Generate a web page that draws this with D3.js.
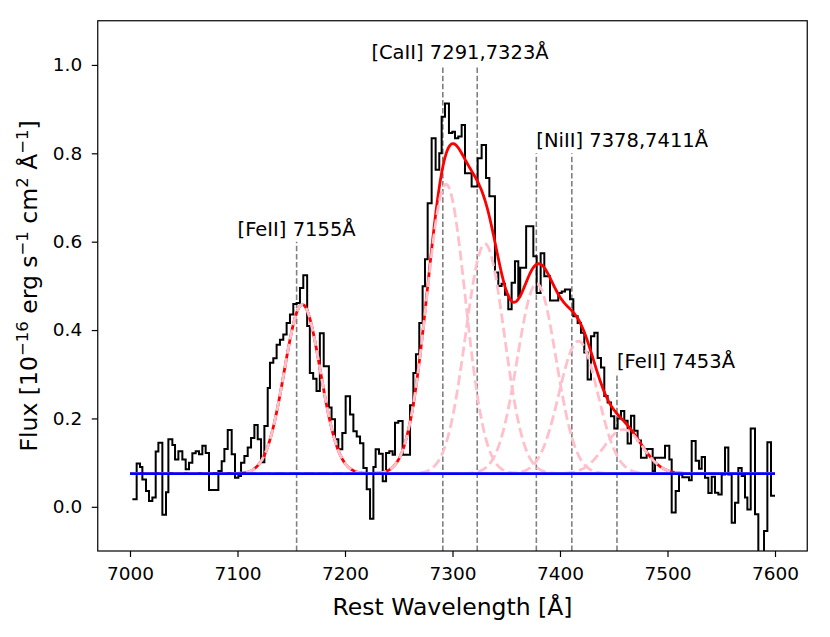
<!DOCTYPE html>
<html>
<head>
    <meta charset="utf-8">
    <script src="https://cdn.jsdelivr.net/npm/d3@7/dist/d3.min.js"></script>
    <title></title>
    <style>
        * {
            margin: 0;
            padding: 0;
        }

        body {
            background: white;
        }

        #chart {
            display: block;
            font-family: "DejaVu Sans", sans-serif;
        }
    </style>
</head>
<body>

    <svg id="chart" width="830" height="637"></svg>

    <script>
        // spectrum: left edge of each step (Angstrom) and its flux
        var binEdge = [7002.2, 7006.2, 7009.3, 7011.5, 7014.9, 7017.7, 7020.8, 7023.9, 7026.4, 7030.1,
            7033.5, 7035.7, 7039.4, 7041.9, 7045.0, 7048.7, 7051.8, 7054.9, 7058.0, 7061.1,
            7064.2, 7067.3, 7070.4, 7073.5, 7082.2, 7085.3, 7087.8, 7090.9, 7094.6, 7097.7,
            7100.8, 7103.3, 7106.4, 7109.5, 7112.6, 7115.7, 7118.8, 7121.9, 7125.0, 7128.1,
            7130.2, 7133.3, 7136.4, 7139.5, 7142.6, 7145.7, 7148.8, 7151.9, 7155.0, 7158.1,
            7161.2, 7164.8, 7167.3, 7170.4, 7173.5, 7176.6, 7180.2, 7185.0, 7187.5, 7190.7,
            7193.8, 7197.5, 7200.6, 7204.7, 7207.8, 7210.9, 7214.0, 7217.1, 7220.2, 7223.3,
            7226.4, 7228.5, 7231.6, 7235.1, 7238.2, 7241.2, 7244.3, 7246.5, 7249.6, 7253.6,
            7260.5, 7263.6, 7266.0, 7269.1, 7272.2, 7274.4, 7276.9, 7280.6, 7284.3, 7287.7,
            7289.9, 7293.0, 7296.7, 7299.8, 7302.3, 7305.4, 7308.5, 7311.6, 7317.8, 7323.4,
            7327.1, 7331.2, 7334.3, 7339.5, 7342.6, 7345.7, 7348.8, 7351.9, 7355.0, 7358.1,
            7361.2, 7363.0, 7368.5, 7375.2, 7378.3, 7382.0, 7385.4, 7390.7, 7398.4, 7401.6,
            7404.6, 7409.3, 7412.4, 7416.4, 7419.5, 7422.6, 7425.7, 7428.8, 7431.9, 7435.0,
            7438.1, 7441.2, 7444.3, 7447.4, 7450.5, 7453.6, 7456.7, 7459.8, 7462.9, 7466.0,
            7469.1, 7472.2, 7475.3, 7480.6, 7486.2, 7488.4, 7497.7, 7501.7, 7503.9, 7507.6,
            7510.7, 7513.8, 7520.0, 7522.5, 7526.2, 7529.3, 7531.8, 7534.9, 7538.0, 7541.1,
            7544.2, 7547.3, 7550.4, 7553.5, 7556.6, 7559.7, 7562.8, 7565.9, 7569.0, 7572.1,
            7574.3, 7577.4, 7581.4, 7584.5, 7589.8, 7592.9, 7596.3, 7600.0];

        var flux = [0.017, 0.098, 0.090, 0.062, 0.036, 0.013, 0.021, 0.125, 0.145, -0.018,
            0.033, 0.153, 0.140, 0.107, 0.126, 0.107, 0.085, 0.100, 0.121, 0.126,
            0.119, 0.138, 0.122, 0.038, 0.081, 0.103, 0.131, 0.174, 0.119, 0.066,
            0.070, 0.100, 0.115, 0.134, 0.156, 0.185, 0.153, 0.101, 0.183, 0.269,
            0.326, 0.336, 0.367, 0.378, 0.390, 0.416, 0.435, 0.459, 0.461, 0.495,
            0.524, 0.409, 0.303, 0.290, 0.262, 0.393, 0.318, 0.225, 0.198, 0.153,
            0.130, 0.167, 0.250, 0.209, 0.171, 0.159, 0.144, 0.088, 0.040, -0.027,
            0.090, 0.130, 0.120, 0.058, 0.122, 0.126, 0.118, 0.190, 0.194, 0.118,
            0.230, 0.303, 0.345, 0.416, 0.499, 0.560, 0.687, 0.834, 0.763, 0.800,
            0.883, 0.913, 0.846, 0.849, 0.834, 0.838, 0.864, 0.755, 0.725, 0.789,
            0.819, 0.744, 0.703, 0.530, 0.500, 0.505, 0.480, 0.447, 0.507, 0.556,
            0.476, 0.541, 0.635, 0.567, 0.484, 0.574, 0.522, 0.467, 0.484, 0.487,
            0.492, 0.470, 0.431, 0.416, 0.394, 0.349, 0.288, 0.386, 0.394, 0.337,
            0.315, 0.251, 0.236, 0.205, 0.177, 0.200, 0.217, 0.195, 0.143, 0.206,
            0.172, 0.150, 0.111, 0.131, 0.081, 0.111, 0.138, 0.107, -0.013, 0.036,
            0.073, 0.067, 0.060, 0.149, 0.104, 0.086, 0.113, 0.066, 0.031, 0.068,
            0.032, 0.028, 0.073, 0.134, 0.073, -0.036, 0.009, 0.088, 0.070, 0.021,
            -0.006, 0.177, -0.017, -0.200, -0.055, 0.146, 0.025];

        // fitted model: flat continuum plus gaussian components
        var continuum = 0.075;
        var fitRange = [7000, 7600];
        var compCenter = [7160.3, 7294.0, 7330.2, 7378.3, 7417.1, 7458.9];
        var compAmp = [0.383, 0.655, 0.520, 0.430, 0.300, 0.100];
        var compSigma = [16.8, 18.0, 18.0, 18.0, 18.0, 18.0];

        // rest wavelengths of the marked lines and how high each marker goes
        var markWave = [7155, 7291, 7323, 7378, 7411, 7453];
        var markTop = [0.6, 1.0, 1.0, 0.8, 0.8, 0.3];

        var labelText = ["[FeII] 7155Å", "[CaII] 7291,7323Å", "[NiII] 7378,7411Å", "[FeII] 7453Å"];
        var labelWave = [7155, 7307, 7378, 7453];
        var labelFlux = [0.6, 1.0, 0.8, 0.3];

        var xTicks = [7000, 7100, 7200, 7300, 7400, 7500, 7600];
        var yTicks = [0.0, 0.2, 0.4, 0.6, 0.8, 1.0];


        var chart = {};
        chart.left = 97.75;
        chart.right = 807.25;
        chart.top = 20.75;
        chart.bottom = 551;

        chart.svg = d3.select("#chart");

        chart.x = d3.scaleLinear().domain([6970, 7630]).range([chart.left, chart.right]);
        chart.y = d3.scaleLinear().domain([-0.1, 1.1]).range([chart.bottom, chart.top]);

        chart.svg.append("defs").append("clipPath")
            .attr("id", "plotArea")
            .append("rect")
            .attr("x", chart.left)
            .attr("y", chart.top)
            .attr("width", chart.right - chart.left)
            .attr("height", chart.bottom - chart.top);

        var plot = chart.svg.append("g").attr("clip-path", "url(#plotArea)");

        // grey dashed markers
        plot.selectAll(".marker")
            .data(markWave)
            .enter()
            .append("line")
            .attr("class", "marker")
            .attr("x1", function (d) { return chart.x(d) })
            .attr("x2", function (d) { return chart.x(d) })
            .attr("y1", chart.y(-0.1))
            .attr("y2", function (d, i) { return chart.y(markTop[i]) })
            .attr("stroke", "#808080")
            .attr("stroke-width", 1.6)
            .attr("stroke-dasharray", "5.5,2.6");

        // observed spectrum as steps
        var stepPts = binEdge.map(function (e, i) {
            return [e, i < flux.length ? flux[i] : flux[flux.length - 1]];
        });
        var stepLine = d3.line()
            .x(function (d) { return chart.x(d[0]) })
            .y(function (d) { return chart.y(d[1]) })
            .curve(d3.curveStepAfter);
        plot.append("path")
            .attr("d", stepLine(stepPts))
            .attr("fill", "none")
            .attr("stroke", "black")
            .attr("stroke-width", 2);

        // model curves evaluated every 1 A
        var grid = d3.range(fitRange[0], fitRange[1] + 0.5, 1);
        function gauss(w, k) {
            var t = (w - compCenter[k]) / compSigma[k];
            return compAmp[k] * Math.exp(-0.5 * t * t);
        }
        var modelLine = d3.line()
            .x(function (d) { return chart.x(d[0]) })
            .y(function (d) { return chart.y(d[1]) });

        var total = grid.map(function (w) {
            var s = continuum;
            for (var k = 0; k < compCenter.length; k++) s += gauss(w, k);
            return [w, s];
        });
        plot.append("path")
            .attr("d", modelLine(total))
            .attr("fill", "none")
            .attr("stroke", "red")
            .attr("stroke-width", 2.8);

        plot.selectAll(".comp")
            .data(compCenter)
            .enter()
            .append("path")
            .attr("class", "comp")
            .attr("d", function (c, k) {
                return modelLine(grid.map(function (w) { return [w, continuum + gauss(w, k)] }));
            })
            .attr("fill", "none")
            .attr("stroke", "pink")
            .attr("stroke-width", 2.8)
            .attr("stroke-dasharray", "10,4.5");

        plot.append("line")
            .attr("x1", chart.x(fitRange[0]))
            .attr("x2", chart.x(fitRange[1]))
            .attr("y1", chart.y(continuum))
            .attr("y2", chart.y(continuum))
            .attr("stroke", "blue")
            .attr("stroke-width", 2.8);

        // line labels
        chart.svg.selectAll(".lab")
            .data(labelText)
            .enter()
            .append("text")
            .attr("class", "lab")
            .attr("x", function (d, i) { return chart.x(labelWave[i]) })
            .attr("y", function (d, i) { return chart.y(labelFlux[i]) - 6 })
            .attr("text-anchor", function (d, i) { return i < 2 ? "middle" : "start" })
            .style("font-size", "19.5px")
            .text(function (d) { return d });

        // axes
        var xAxis = chart.svg.append("g")
            .attr("transform", "translate(0," + chart.bottom + ")")
            .call(d3.axisBottom(chart.x).tickValues(xTicks).tickSize(6).tickPadding(10).tickFormat(d3.format("d")));
        var yAxis = chart.svg.append("g")
            .attr("transform", "translate(" + chart.left + ",0)")
            .call(d3.axisLeft(chart.y).tickValues(yTicks).tickSize(6).tickPadding(9.5).tickFormat(d3.format(".1f")));

        [xAxis, yAxis].forEach(function (a) {
            a.select(".domain").remove();
            a.selectAll(".tick line").attr("stroke", "black").attr("stroke-width", 1.2);
            a.selectAll(".tick text")
                .attr("fill", "black")
                .style("font-family", "DejaVu Sans")
                .style("font-size", "18.5px");
        });

        chart.svg.append("rect")
            .attr("x", chart.left)
            .attr("y", chart.top)
            .attr("width", chart.right - chart.left)
            .attr("height", chart.bottom - chart.top)
            .attr("fill", "none")
            .attr("stroke", "black")
            .attr("stroke-width", 1.2);

        chart.svg.append("text")
            .attr("x", (chart.left + chart.right) / 2)
            .attr("y", 615)
            .attr("text-anchor", "middle")
            .style("font-size", "23.5px")
            .text("Rest Wavelength [Å]");

        // y label with superscripts
        var yl = chart.svg.append("text")
            .attr("transform", "translate(37," + (chart.top + chart.bottom) / 2 + ") rotate(-90)")
            .attr("text-anchor", "middle")
            .style("font-size", "23.5px");
        var parts = [["Flux [10", 0], ["\u221216", 1], [" erg s", 0], ["\u22121", 1], [" cm", 0], ["2", 1], [" Å", 0], ["\u22121", 1], ["]", 0]];
        var raised = false;
        parts.forEach(function (p) {
            var t = yl.append("tspan").text(p[0]);
            if (p[1] == 1) {
                t.style("font-size", "16.5px").attr("dy", raised ? 0 : -9.5);
                raised = true;
            } else {
                t.attr("dy", raised ? 9.5 : 0);
                raised = false;
            }
        });
    </script>
</body>
</html>
